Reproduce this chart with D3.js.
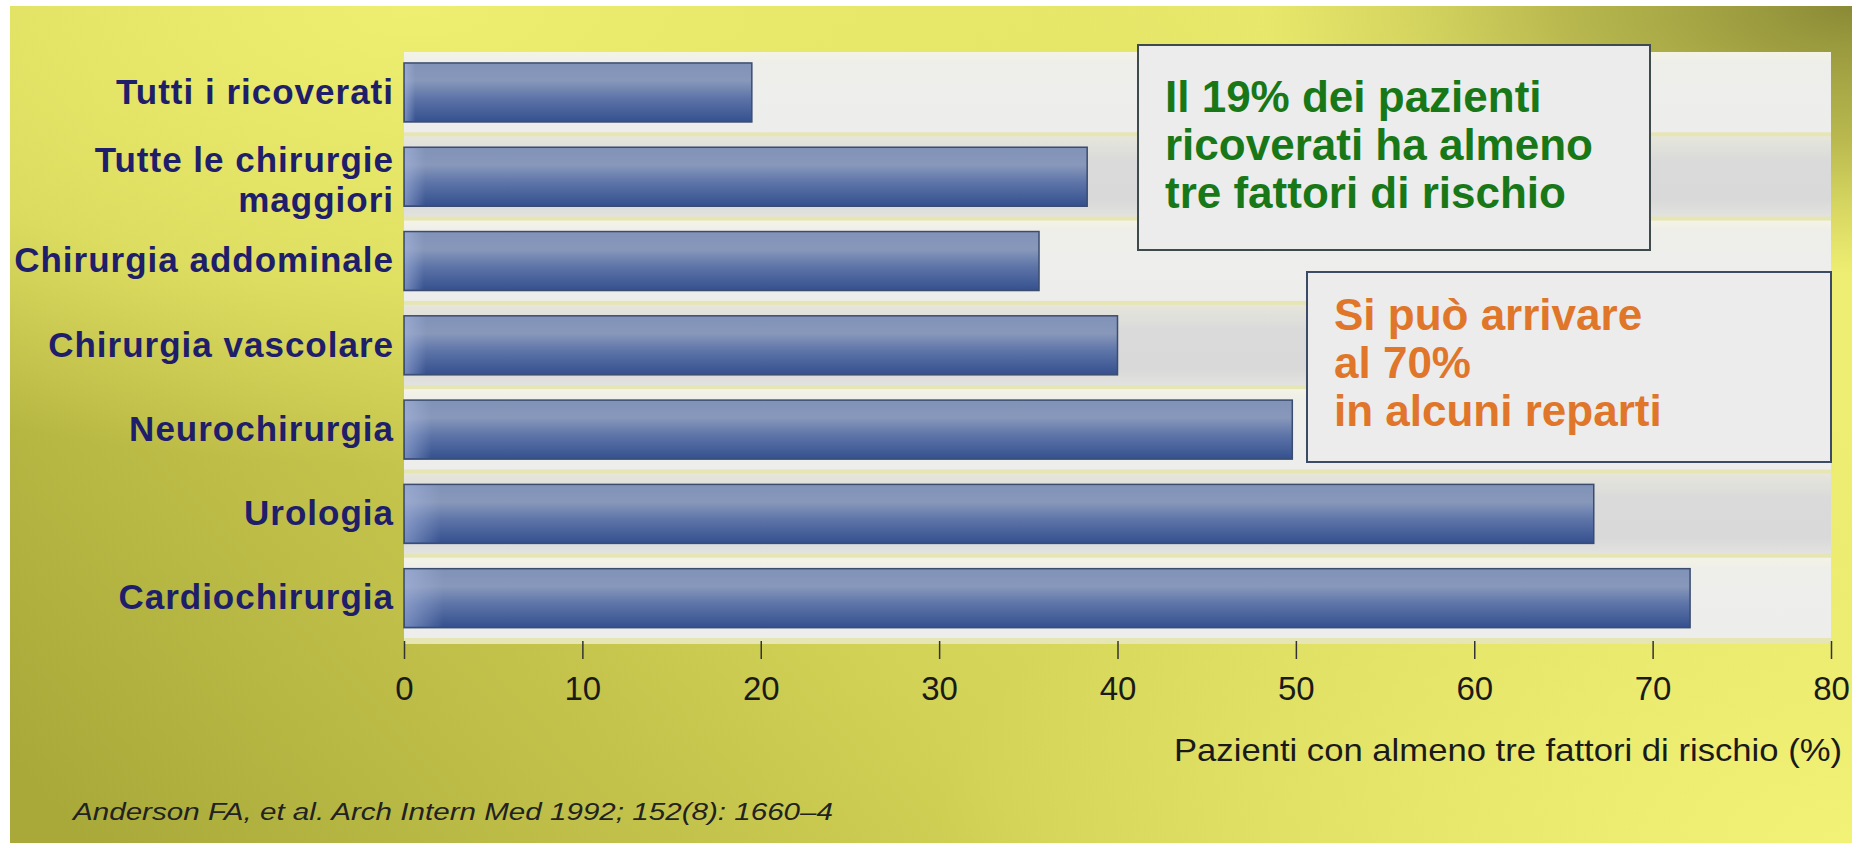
<!DOCTYPE html>
<html>
<head>
<meta charset="utf-8">
<script src="https://d3js.org/d3.v7.min.js"></script>
<style>
html, body { margin: 0; padding: 0; background: #ffffff; }
svg { display: block; }
</style>
</head>
<body>
<svg id="chart" width="1852" height="849"></svg>
<script>
// dati
var categories = ["Tutti i ricoverati", "Tutte le chirurgie\nmaggiori", "Chirurgia addominale",
    "Chirurgia vascolare", "Neurochirurgia", "Urologia", "Cardiochirurgia"];
var values = [19.5, 38.3, 35.6, 40.0, 49.8, 66.7, 72.1];
var xTicks = [0, 10, 20, 30, 40, 50, 60, 70, 80];
var axisTitle = "Pazienti con almeno tre fattori di rischio (%)";
var citation = "Anderson FA, et al. Arch Intern Med 1992; 152(8): 1660–4";
var note1 = ["Il 19% dei pazienti", "ricoverati ha almeno", "tre fattori di rischio"];
var note2 = ["Si può arrivare", "al 70%", "in alcuni reparti"];

(function () {
    var svg = d3.select("#chart");
    var W = 1852, H = 849;
    var plot = { left: 404, right: 1831, top: 52, bottom: 642 };
    var font = "'Liberation Sans', Arial, sans-serif";

    var x = d3.scaleLinear().domain([0, 80]).range([plot.left, plot.right]);
    var y = d3.scaleBand().domain(categories).range([plot.top, plot.bottom]);
    var bw = y.bandwidth();

    var defs = svg.append("defs");

    function linGrad(id, x1, y1, x2, y2, stops) {
        var g = defs.append("linearGradient").attr("id", id)
            .attr("x1", x1).attr("y1", y1).attr("x2", x2).attr("y2", y2);
        stops.forEach(function (s) {
            g.append("stop").attr("offset", s[0]).attr("stop-color", s[1])
                .attr("stop-opacity", s[2] == null ? 1 : s[2]);
        });
        return g;
    }
    function radGrad(id, cx, cy, r, stops) {
        var g = defs.append("radialGradient").attr("id", id)
            .attr("cx", cx).attr("cy", cy).attr("r", r);
        stops.forEach(function (s) {
            g.append("stop").attr("offset", s[0]).attr("stop-color", s[1])
                .attr("stop-opacity", s[2] == null ? 1 : s[2]);
        });
        return g;
    }

    // sfondo giallo / oliva
    linGrad("bgBase", 0, 0.9, 1, 0.5, [[0, "#a9a93a"], [0.45, "#d2d256"], [1, "#eeee72"]]);
    radGrad("bgTopLeft", 0.22, 0, 0.55, [[0, "#eeee70", 1], [0.6, "#e8e86a", 0.7], [1, "#e4e468", 0]]);
    radGrad("bgTopRight", 1, 0, 0.32, [[0, "#8a8a36", 1], [0.5, "#a2a240", 0.7], [1, "#b0b044", 0]]);
    radGrad("bgBottomRight", 1, 1, 0.5, [[0, "#f2f276", 1], [1, "#eeee72", 0]]);

    svg.append("rect").attr("x", 10).attr("y", 6).attr("width", W - 10).attr("height", H - 12)
        .attr("fill", "url(#bgBase)");
    ["bgTopLeft", "bgTopRight", "bgBottomRight"].forEach(function (id) {
        svg.append("rect").attr("x", 10).attr("y", 6).attr("width", W - 10).attr("height", H - 12)
            .attr("fill", "url(#" + id + ")");
    });

    // fasce dell'area del grafico
    linGrad("bandLight", 0, 0, 0, 1, [[0, "#f3f3e6"], [0.15, "#eeeeea"], [1, "#ededed"]]);
    linGrad("bandGray", 0, 0, 0, 1, [[0, "#e6e6dc"], [0.3, "#dadada"], [0.8, "#d9d9d9"], [1, "#e2e2e0"]]);
    linGrad("barFill", 0, 0, 0, 1, [[0, "#8192b8"], [0.3, "#8898bb"], [0.6, "#5d74a8"], [1, "#34508e"]]);
    linGrad("barShine", 0, 0, 1, 0, [[0, "#a8b8e0", 0.55], [0.03, "#a8b8e0", 0], [1, "#a8b8e0", 0]]);

    svg.append("rect")
        .attr("x", plot.left).attr("y", plot.top)
        .attr("width", plot.right - plot.left).attr("height", plot.bottom - plot.top + 2)
        .attr("fill", "#e6e6b4");

    svg.append("g").selectAll("rect.band")
        .data(categories)
        .enter()
        .append("rect")
        .classed("band", true)
        .attr("x", plot.left)
        .attr("y", function (d) { return y(d); })
        .attr("width", plot.right - plot.left)
        .attr("height", bw - 4)
        .attr("fill", function (d, i) { return i % 2 ? "url(#bandGray)" : "url(#bandLight)"; });

    // barre
    var bars = svg.append("g").selectAll("g.bar")
        .data(categories)
        .enter()
        .append("g")
        .classed("bar", true);

    bars.append("rect")
        .attr("x", x(0))
        .attr("y", function (d) { return y(d) + bw * 0.13; })
        .attr("width", function (d, i) { return x(values[i]) - x(0); })
        .attr("height", bw * 0.70)
        .attr("fill", "url(#barFill)")
        .attr("stroke", "#3b4c6f")
        .attr("stroke-width", 1.5);

    bars.append("rect")
        .attr("x", x(0) + 1)
        .attr("y", function (d) { return y(d) + bw * 0.13 + 1; })
        .attr("width", function (d, i) { return x(values[i]) - x(0) - 2; })
        .attr("height", bw * 0.70 - 2)
        .attr("fill", "url(#barShine)");

    // etichette delle categorie
    var labels = svg.append("g").selectAll("text.cat")
        .data(categories)
        .enter()
        .append("text")
        .classed("cat", true)
        .attr("text-anchor", "end")
        .attr("font-family", font)
        .attr("font-weight", "bold")
        .attr("font-size", 35)
        .attr("letter-spacing", 1)
        .attr("fill", "#1e1e6a");

    labels.each(function (d) {
        var lines = d.split("\n");
        var cy = y(d) + bw / 2;
        var first = lines.length > 1 ? cy - 6 : cy + 9.5;
        d3.select(this).selectAll("tspan")
            .data(lines)
            .enter()
            .append("tspan")
            .attr("x", plot.left - 10)
            .attr("y", function (l, j) { return first + j * 40; })
            .text(function (l) { return l; });
    });

    // asse x
    var axis = svg.append("g")
        .classed("x-axis", true)
        .attr("transform", "translate(0," + (plot.bottom - 1) + ")")
        .call(d3.axisBottom(x).tickValues(xTicks).tickSize(18).tickPadding(18).tickFormat(d3.format("d")));

    axis.select(".domain").remove();
    axis.selectAll(".tick line").attr("stroke", "#333333").attr("stroke-width", 1.5);
    axis.selectAll(".tick text")
        .attr("font-family", font)
        .attr("font-size", 33)
        .attr("fill", "#1a1a1a");

    svg.append("text")
        .attr("x", 1842)
        .attr("y", 761)
        .attr("text-anchor", "end")
        .attr("font-family", font)
        .attr("font-size", 32)
        .attr("textLength", 668)
        .attr("lengthAdjust", "spacingAndGlyphs")
        .attr("fill", "#1a1a1a")
        .text(axisTitle);

    svg.append("text")
        .attr("x", 73)
        .attr("y", 820)
        .attr("font-family", font)
        .attr("font-style", "italic")
        .attr("font-size", 23)
        .attr("textLength", 760)
        .attr("lengthAdjust", "spacingAndGlyphs")
        .attr("fill", "#222222")
        .text(citation);

    // riquadri di commento
    function noteBox(x0, y0, x1, y1, lines, color, stroke, firstBase) {
        var g = svg.append("g");
        g.append("rect")
            .attr("x", x0).attr("y", y0)
            .attr("width", x1 - x0).attr("height", y1 - y0)
            .attr("fill", "#ececec")
            .attr("stroke", stroke)
            .attr("stroke-width", 2);
        g.selectAll("text")
            .data(lines)
            .enter()
            .append("text")
            .attr("x", x0 + 27)
            .attr("y", function (d, i) { return firstBase + i * 48; })
            .attr("font-family", font)
            .attr("font-weight", "bold")
            .attr("font-size", 44)
            .attr("fill", color)
            .text(function (d) { return d; });
    }

    noteBox(1138, 45, 1650, 250, note1, "#187818", "#3f4a4c", 112);
    noteBox(1307, 272, 1831, 462, note2, "#e0762a", "#3b4b66", 330);
})();
</script>
</body>
</html>
